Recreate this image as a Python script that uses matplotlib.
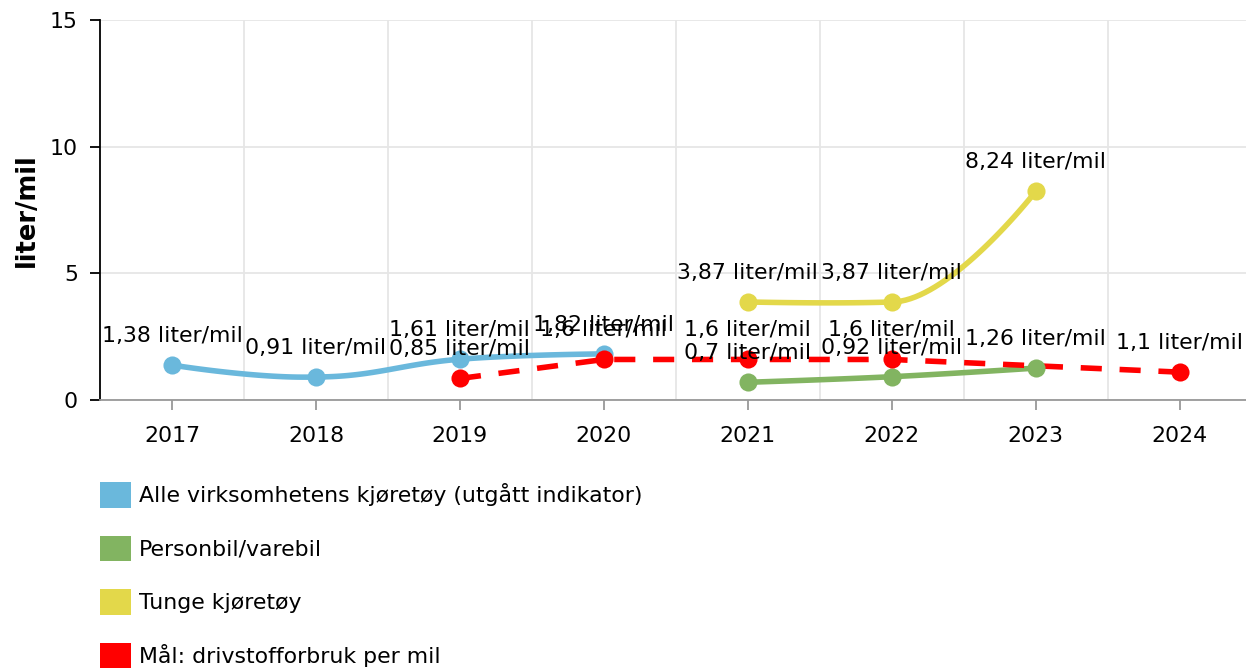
import numpy as np
import matplotlib
matplotlib.use("Agg")
import matplotlib.pyplot as plt
from matplotlib.patches import Patch

years = ["2017", "2018", "2019", "2020", "2021", "2022", "2023", "2024"]

# None = no value that year
alle = [1.38, 0.91, 1.61, 1.82, None, None, None, None]
personbil = [None, None, None, None, 0.7, 0.92, 1.26, None]
tunge = [None, None, None, None, 3.87, 3.87, 8.24, None]
maal = [None, None, 0.85, 1.6, 1.6, 1.6, None, 1.1]

names = ["Alle virksomhetens kjøretøy (utgått indikator)", "Personbil/varebil",
         "Tunge kjøretøy", "Mål: drivstofforbruk per mil"]
colors = ["#6ab8dc", "#82b461", "#e3d84a", "#ff0000"]

FS = 15.8
plt.rcParams['font.family'] = ['DejaVu Sans']


def label(v):
    return ("%g" % v).replace(".", ",") + " liter/mil"


def spline(xs, ys, smoothing=1.5, n=40):
    # smooth curve through the points (cubic bezier, control points from neighbours)
    denom = smoothing + 1
    m = len(xs)
    lc = [(x, y) for x, y in zip(xs, ys)]
    rc = [(x, y) for x, y in zip(xs, ys)]
    for i in range(1, m - 1):
        px, py = xs[i], ys[i]
        lx, ly = xs[i - 1], ys[i - 1]
        nx, ny = xs[i + 1], ys[i + 1]
        lcx = (smoothing * px + lx) / denom
        lcy = (smoothing * py + ly) / denom
        rcx = (smoothing * px + nx) / denom
        rcy = (smoothing * py + ny) / denom
        corr = (rcy - lcy) * (rcx - px) / (rcx - lcx) + py - rcy
        lcy += corr
        rcy += corr
        # keep control points between neighbouring values (no false extremes)
        if lcy > ly and lcy > py:
            lcy = max(ly, py); rcy = 2 * py - lcy
        elif lcy < ly and lcy < py:
            lcy = min(ly, py); rcy = 2 * py - lcy
        if rcy > ny and rcy > py:
            rcy = max(ny, py); lcy = 2 * py - rcy
        elif rcy < ny and rcy < py:
            rcy = min(ny, py); lcy = 2 * py - rcy
        lc[i] = (lcx, lcy - 0.08 * (lcy == py))
        rc[i] = (rcx, rcy)
    outx, outy = [xs[0]], [ys[0]]
    t = np.linspace(0, 1, n)[1:]
    for i in range(1, m):
        p0 = np.array([xs[i - 1], ys[i - 1]])
        p1 = np.array(rc[i - 1])
        p2 = np.array(lc[i])
        p3 = np.array([xs[i], ys[i]])
        pts = ((1 - t) ** 3)[:, None] * p0 + (3 * (1 - t) ** 2 * t)[:, None] * p1 \
            + (3 * (1 - t) * t ** 2)[:, None] * p2 + (t ** 3)[:, None] * p3
        outx += list(pts[:, 0])
        outy += list(pts[:, 1])
    return outx, outy


fig = plt.figure(figsize=(12.46, 6.70), dpi=100)
ax = fig.add_axes([100 / 1246, 270 / 670, 1146 / 1246, 380 / 670])

series = [alle, personbil, tunge, maal]
for k, (vals, c) in enumerate(zip(series, colors)):
    xs = [i for i, v in enumerate(vals) if v is not None]
    ys = [v for v in vals if v is not None]
    if k == 3:
        ax.plot(xs, ys, color=c, lw=4, ls=(0, (3.8, 3.2)), zorder=3, solid_capstyle='butt')
    else:
        sx, sy = spline(xs, ys)
        ax.plot(sx, sy, color=c, lw=4, zorder=3, solid_capstyle='round')
    ax.scatter(xs, ys, s=170, color=c, zorder=4, linewidths=0)
    for x, y in zip(xs, ys):
        ax.annotate(label(y), (x, y), xytext=(0, 19), textcoords='offset pixels',
                    ha='center', va='bottom', fontsize=FS, color='black', zorder=5)

ax.set_xlim(-0.5, 7.46)
ax.set_ylim(0, 15)
ax.set_yticks([0, 5, 10, 15])
ax.set_xticks(range(len(years)))
ax.set_xticklabels(years)
ax.set_xticks(np.arange(0.5, 7, 1), minor=True)
ax.grid(True, which='minor', axis='x', color='#e6e6e6', lw=1.3)
ax.grid(True, which='major', axis='y', color='#e6e6e6', lw=1.3)
ax.set_axisbelow(True)
for s in ['top', 'right']:
    ax.spines[s].set_visible(False)
ax.spines['left'].set_color('black')
ax.spines['left'].set_linewidth(1.3)
ax.spines['bottom'].set_color('#999999')
ax.spines['bottom'].set_linewidth(1.3)
ax.tick_params(axis='y', length=7, width=1.3, color='black', labelsize=FS, pad=9)
ax.tick_params(axis='x', which='major', length=7, width=1.3, color='#999999',
               labelsize=FS, pad=12)
ax.tick_params(axis='x', which='minor', length=0)
ax.set_ylabel("liter/mil", fontsize=18.5, fontweight='bold', labelpad=7)

handles = [Patch(facecolor=c, edgecolor='none') for c in colors]
fig.legend(handles, names, loc='upper left', bbox_to_anchor=(100 / 1246, 1 - 482 / 670),
           frameon=False, fontsize=FS, handlelength=1.42, handleheight=1.42,
           labelspacing=1.27, handletextpad=0.35, borderpad=0, borderaxespad=0)

fig.savefig("out.png", dpi=100)
